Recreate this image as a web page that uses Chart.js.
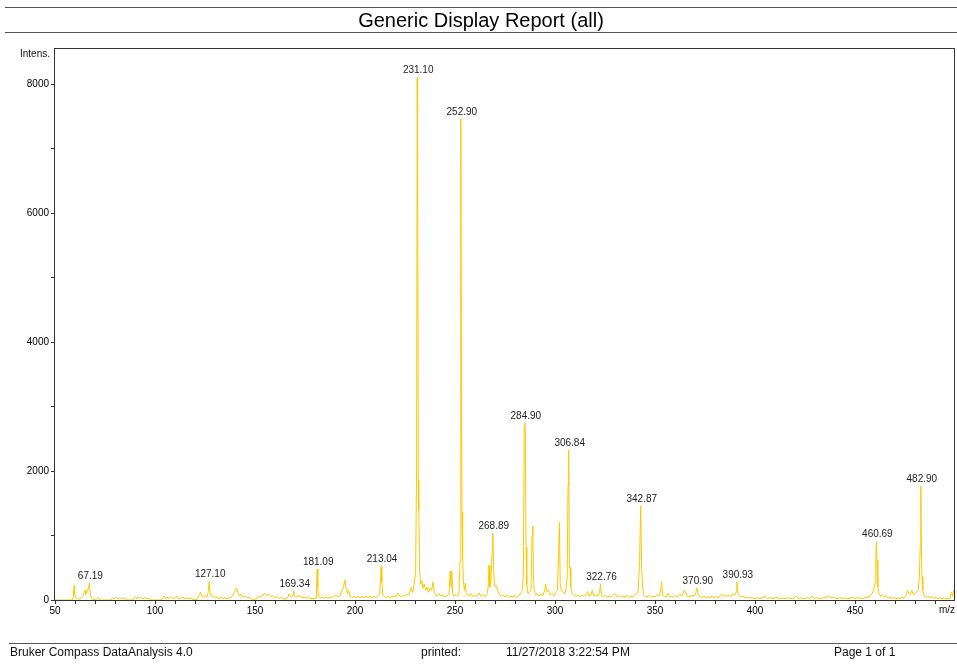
<!DOCTYPE html>
<html>
<head>
<meta charset="utf-8">
<title>Generic Display Report (all)</title>
<script src="https://cdn.jsdelivr.net/npm/chart.js@4.4.1/dist/chart.umd.min.js"></script>
<style>
    body { margin: 0; background: #fff; font-family: "Liberation Sans", Arial, sans-serif; }
    #page { position: relative; width: 957px; height: 665px; overflow: hidden; }
    #spectrum { position: absolute; left: 0; top: 0; }
    .report-title {
        position: absolute; left: 5px; right: 0; top: 7px; height: 24px;
        border-top: 1px solid #555; border-bottom: 1px solid #555;
        text-align: center; line-height: 25px; font-size: 20px; color: #000;
    }
    .footer-line { position: absolute; left: 9px; right: 0; top: 643px; border-top: 1px solid #555; }
    .footer-text { position: absolute; top: 645px; font-size: 12px; line-height: 14px; color: #111; white-space: nowrap; }
</style>
</head>
<body>
<div id="page">
    <canvas id="spectrum" width="957" height="665"></canvas>
    <div class="report-title">Generic Display Report (all)</div>
    <div class="footer-line"></div>
    <div class="footer-text" style="left:10px">Bruker Compass DataAnalysis 4.0</div>
    <div class="footer-text" style="left:421px">printed:</div>
    <div class="footer-text" style="left:506px">11/27/2018 3:22:54 PM</div>
    <div class="footer-text" style="left:834px">Page 1 of 1</div>
</div>

<script>
// ==========================================
// Spectrum data (m/z vs intensity)
// ==========================================

const mz = [
    50, 56, 58.6, 59.2, 59.5, 59.8, 60.4, 61.2, 62.0, 63.0,
    64.0, 64.6, 65.0, 65.4, 66.0, 66.6, 67.19, 67.6, 68.2, 69.0,
    70.0, 71.5, 72.5, 75.0, 78.0, 78.6, 79.5, 80.5, 81.5, 82.5,
    83.5, 84.5, 86.0, 89.0, 89.8, 90.6, 91.4, 92.2, 93.0, 94.0,
    95.0, 96.0, 97.0, 98.0, 100.0, 103.0, 103.8, 104.6, 105.2, 106.0,
    107.0, 108.0, 109.0, 110.0, 111.0, 112.0, 113.0, 114.0, 115.0, 116.0,
    117.0, 118.0, 119.0, 120.5, 121.5, 122.3, 122.8, 123.4, 124.2, 125.0,
    125.8, 126.5, 127.1, 127.5, 128.2, 129.0, 130.0, 131.0, 132.0, 133.0,
    134.0, 135.0, 136.0, 137.0, 138.0, 138.8, 139.5, 140.2, 140.8, 141.4,
    142.0, 143.0, 144.0, 145.0, 146.0, 147.0, 148.0, 149.5, 151.0, 152.0,
    153.0, 154.0, 155.0, 156.0, 157.0, 158.0, 159.0, 160.0, 161.0, 162.0,
    163.0, 164.0, 165.5, 166.5, 167.0, 167.6, 168.3, 169.0, 169.34, 169.8,
    170.5, 171.5, 172.5, 173.5, 174.5, 175.5, 176.5, 177.5, 178.5, 179.5,
    180.5, 180.8, 181.09, 181.4, 181.8, 182.5, 183.5, 184.5, 185.5, 186.5,
    187.5, 188.5, 189.5, 190.5, 191.5, 192.5, 193.3, 194.2, 195.0, 195.6,
    196.3, 196.8, 197.5, 198.5, 199.5, 200.5, 201.5, 202.5, 203.5, 204.5,
    205.5, 206.5, 207.5, 208.5, 209.5, 210.5, 211.5, 212.3, 212.7, 213.04,
    213.4, 213.9, 214.6, 215.5, 216.5, 217.5, 218.5, 219.5, 220.5, 221.5,
    222.3, 223.2, 224.0, 225.0, 226.0, 227.0, 228.0, 228.8, 229.6, 230.3,
    230.8, 231.1, 231.3, 231.65, 231.9, 232.3, 232.8, 233.4, 234.0, 234.6,
    235.3, 236.0, 236.8, 237.5, 238.3, 239.0, 239.6, 240.3, 241.0, 242.0,
    243.0, 244.0, 245.0, 246.0, 247.0, 247.6, 248.0, 248.4, 248.8, 249.5,
    250.5, 251.3, 252.0, 252.5, 252.9, 253.2, 253.5, 253.8, 254.2, 254.7,
    255.1, 255.6, 256.3, 257.0, 258.0, 259.0, 260.0, 261.0, 262.0, 263.0,
    264.0, 265.0, 266.0, 266.6, 267.0, 267.4, 268.0, 268.5, 268.89, 269.3,
    269.7, 270.2, 270.7, 271.3, 272.0, 273.0, 274.0, 275.0, 276.0, 277.0,
    278.0, 279.0, 280.0, 281.0, 282.0, 283.0, 283.6, 284.2, 284.6, 284.9,
    285.15, 285.5, 285.9, 286.5, 287.3, 288.0, 288.5, 288.9, 289.2, 289.6,
    290.3, 291.0, 292.0, 293.0, 294.0, 294.8, 295.3, 296.0, 296.8, 297.5,
    298.5, 299.5, 300.5, 301.2, 301.8, 302.2, 302.6, 303.2, 304.0, 305.0,
    305.6, 306.1, 306.5, 306.84, 307.2, 307.5, 307.9, 308.5, 309.5, 310.5,
    311.5, 312.5, 313.5, 314.5, 315.5, 316.3, 317.0, 318.0, 318.6, 319.5,
    320.5, 321.5, 322.3, 322.76, 323.2, 324.0, 325.0, 326.0, 327.0, 328.0,
    329.0, 330.0, 331.0, 332.0, 333.0, 334.0, 335.0, 336.0, 337.0, 338.0,
    339.0, 340.0, 341.0, 341.6, 342.3, 342.87, 343.3, 343.8, 344.4, 345.0,
    346.0, 347.0, 348.0, 349.0, 350.0, 351.0, 352.0, 352.7, 353.3, 353.8,
    354.5, 355.5, 356.5, 357.5, 358.5, 359.5, 360.5, 361.5, 362.5, 363.5,
    364.5, 365.3, 366.0, 367.0, 368.0, 369.0, 370.2, 370.9, 371.5, 372.3,
    373.5, 374.5, 375.5, 376.5, 377.5, 378.5, 379.5, 380.5, 381.5, 382.5,
    383.3, 384.0, 385.0, 386.0, 387.0, 388.0, 389.0, 390.0, 390.5, 390.93,
    391.4, 392.0, 393.0, 394.0, 395.0, 396.0, 397.0, 398.0, 399.5, 401.0,
    402.5, 404.0, 405.0, 406.0, 407.5, 409.0, 410.5, 412.0, 413.5, 415.0,
    416.5, 418.0, 419.5, 420.5, 421.5, 423.0, 424.5, 426.0, 427.5, 428.5,
    429.5, 431.0, 432.5, 434.0, 435.5, 437.0, 438.0, 439.5, 441.0, 442.5,
    444.0, 445.5, 447.0, 448.5, 450.0, 451.5, 453.0, 454.5, 456.0, 457.5,
    458.5, 459.3, 460.0, 460.4, 460.69, 461.0, 461.4, 462.0, 462.8, 463.6,
    464.5, 465.5, 466.5, 467.5, 468.5, 469.5, 470.5, 471.5, 472.5, 473.5,
    474.5, 475.5, 476.2, 477.0, 477.6, 478.4, 479.2, 480.0, 480.8, 481.6,
    482.2, 482.6, 482.9, 483.2, 483.5, 483.9, 484.5, 485.5, 486.5, 487.5,
    488.5, 489.5, 490.5, 491.5, 492.5, 493.5, 494.5, 495.5, 496.5, 497.5,
    498.2, 498.8, 499.4, 500.0
];

const intensity = [
    0, 0, 0, 60, 220, 90, 30, 20, 10, 30,
    60, 110, 150, 90, 130, 170, 264, 110, 30, 10,
    0, 30, 0, 0, 0, 30, 15, 40, 20, 35,
    15, 30, 0, 0, 50, 20, 45, 25, 40, 20,
    35, 15, 30, 0, 0, 0, 30, 60, 25, 45,
    20, 55, 20, 35, 60, 15, 30, 45, 20, 35,
    20, 30, 10, 0, 40, 80, 124, 60, 40, 70,
    40, 100, 284, 120, 50, 70, 30, 45, 20, 40,
    25, 35, 20, 40, 30, 70, 110, 150, 186, 120,
    70, 90, 40, 60, 30, 45, 20, 0, 30, 60,
    45, 80, 100, 70, 90, 50, 65, 35, 50, 25,
    40, 20, 10, 50, 95, 60, 40, 80, 140, 70,
    40, 55, 70, 30, 45, 25, 50, 30, 20, 25,
    30, 200, 480, 200, 60, 30, 45, 25, 40, 30,
    45, 35, 60, 80, 50, 60, 145, 200, 310, 180,
    100, 150, 60, 40, 55, 35, 60, 30, 50, 40,
    60, 35, 55, 30, 50, 40, 70, 90, 280, 520,
    280, 80, 60, 40, 60, 35, 55, 45, 60, 110,
    60, 50, 70, 60, 90, 80, 190, 120, 250, 420,
    2000, 8100, 7560, 1860, 1395, 465, 250, 300, 180, 250,
    150, 200, 120, 180, 150, 280, 140, 80, 60, 90,
    60, 80, 50, 70, 90, 450, 200, 450, 100, 60,
    80, 60, 120, 600, 7460, 3360, 1365, 700, 300, 150,
    260, 120, 80, 60, 100, 50, 70, 60, 110, 60,
    80, 50, 90, 200, 540, 200, 300, 730, 1039, 500,
    250, 200, 220, 150, 100, 60, 80, 50, 70, 40,
    60, 50, 70, 40, 80, 100, 150, 400, 2690, 2744,
    2650, 820, 250, 100, 120, 150, 1000, 1150, 400, 150,
    80, 100, 60, 90, 70, 150, 250, 120, 150, 80,
    100, 60, 120, 150, 740, 1210, 250, 150, 120, 100,
    200, 350, 1780, 2326, 510, 510, 200, 100, 80, 60,
    80, 50, 70, 60, 80, 130, 60, 80, 150, 60,
    80, 60, 100, 250, 80, 50, 70, 40, 60, 50,
    80, 100, 50, 70, 40, 60, 50, 70, 40, 60,
    50, 80, 100, 150, 595, 1460, 540, 200, 80, 60,
    50, 70, 40, 60, 50, 80, 60, 120, 284, 80,
    60, 40, 100, 50, 60, 40, 70, 50, 90, 60,
    150, 130, 60, 50, 70, 60, 80, 186, 100, 50,
    40, 60, 30, 50, 40, 60, 30, 50, 40, 70,
    90, 50, 80, 60, 70, 50, 90, 80, 120, 280,
    120, 70, 50, 60, 30, 50, 30, 40, 20, 35,
    20, 40, 60, 25, 35, 20, 40, 25, 30, 20,
    35, 20, 30, 60, 25, 30, 20, 35, 25, 60,
    25, 35, 20, 30, 40, 70, 30, 40, 20, 35,
    25, 30, 20, 40, 25, 35, 20, 30, 40, 60,
    100, 150, 260, 620, 905, 620, 200, 100, 60, 80,
    40, 60, 30, 50, 25, 40, 20, 30, 20, 40,
    30, 60, 150, 100, 80, 150, 80, 100, 120, 150,
    361, 826, 1767, 826, 361, 150, 60, 40, 60, 30,
    50, 25, 40, 20, 35, 20, 30, 20, 25, 20,
    120, 60, 150, 100
];

// Peaks that get an m/z annotation above them
const peakLabels = [67.19, 127.10, 169.34, 181.09, 213.04, 231.10, 252.90, 268.89,
    284.90, 306.84, 322.76, 342.87, 370.90, 390.93, 460.69, 482.90];

// Axis ranges and ticks
const mzRange = [50, 500];
const intensRange = [0, 8560];
const mzTickStep = 10;
const mzLabelStep = 50;
const intensTicks = [0, 1000, 2000, 3000, 4000, 5000, 6000, 7000, 8000];
const intensLabelStep = 2000;

if (mz.length !== intensity.length) {
    console.warn('mz / intensity length mismatch', mz.length, intensity.length);
}

const FONT = '"Liberation Sans", Arial, sans-serif';
Chart.defaults.font.family = FONT;

// ==========================================
// Plugins
// ==========================================

// Box around the plot + axis captions
const frameAndCaptions = {
    id: 'frameAndCaptions',
    afterDatasetsDraw(chart) {
        const { ctx, chartArea: a } = chart;
        ctx.save();
        ctx.strokeStyle = '#333';
        ctx.lineWidth = 1;
        ctx.strokeRect(Math.round(a.left) - 0.5, Math.round(a.top) + 0.5,
            Math.round(a.right - a.left), Math.round(a.bottom - a.top));

        ctx.fillStyle = '#111';
        ctx.font = `10px ${FONT}`;
        ctx.textBaseline = 'middle';
        ctx.textAlign = 'right';
        ctx.fillText('Intens.', a.left - 5, a.top + 6);
        ctx.fillText('m/z', a.right, a.bottom + 10);
        ctx.restore();
    }
};

// m/z labels sitting on top of the annotated peaks
const peakLabelPlugin = {
    id: 'peakLabels',
    afterDatasetsDraw(chart) {
        const { ctx, scales } = chart;
        ctx.save();
        ctx.fillStyle = '#222';
        ctx.font = `10px ${FONT}`;
        ctx.textAlign = 'center';
        ctx.textBaseline = 'bottom';
        peakLabels.forEach(p => {
            const idx = mz.findIndex(v => Math.abs(v - p) < 1e-6);
            if (idx < 0) return;
            const x = scales.x.getPixelForValue(mz[idx]);
            const y = scales.y.getPixelForValue(intensity[idx]);
            ctx.fillText(p.toFixed(2), x + 1, y - 2);
        });
        ctx.restore();
    }
};

// ==========================================
// Chart
// ==========================================

const points = mz.map((m, i) => ({ x: m, y: intensity[i] }));

new Chart(document.getElementById('spectrum'), {
    type: 'scatter',
    data: {
        datasets: [{
            data: points,
            showLine: true,
            borderColor: 'rgb(255, 200, 0)',
            borderWidth: 1,
            pointRadius: 0,
            tension: 0
        }]
    },
    options: {
        responsive: false,
        animation: false,
        events: [],
        layout: { padding: { left: 0, top: 48, right: 2, bottom: 45 } },
        plugins: {
            legend: { display: false },
            tooltip: { enabled: false }
        },
        scales: {
            x: {
                type: 'linear',
                min: mzRange[0],
                max: mzRange[1],
                border: { display: false },
                grid: { drawOnChartArea: false, drawTicks: true, tickLength: 4, color: '#333' },
                ticks: {
                    stepSize: mzTickStep,
                    autoSkip: false,
                    maxRotation: 0,
                    padding: 1,
                    color: '#000',
                    font: { size: 10 },
                    callback: v => (v % mzLabelStep === 0 ? v : '')
                },
                afterBuildTicks: scale => {
                    scale.ticks = scale.ticks.filter(t => t.value < mzRange[1]);
                },
                afterFit: scale => { scale.height = 20; }
            },
            y: {
                type: 'linear',
                min: intensRange[0],
                max: intensRange[1],
                border: { display: false },
                grid: { drawOnChartArea: false, drawTicks: true, tickLength: 4, color: '#333' },
                ticks: {
                    autoSkip: false,
                    padding: 2,
                    color: '#000',
                    font: { size: 10 },
                    callback: v => (v % intensLabelStep === 0 ? v : '')
                },
                // fixed tick positions: minor every 1000, labelled every 2000
                afterBuildTicks: scale => {
                    scale.ticks = intensTicks.map(v => ({ value: v }));
                },
                afterFit: scale => { scale.width = 55; }
            }
        }
    },
    plugins: [frameAndCaptions, peakLabelPlugin]
});
</script>
</body>
</html>
